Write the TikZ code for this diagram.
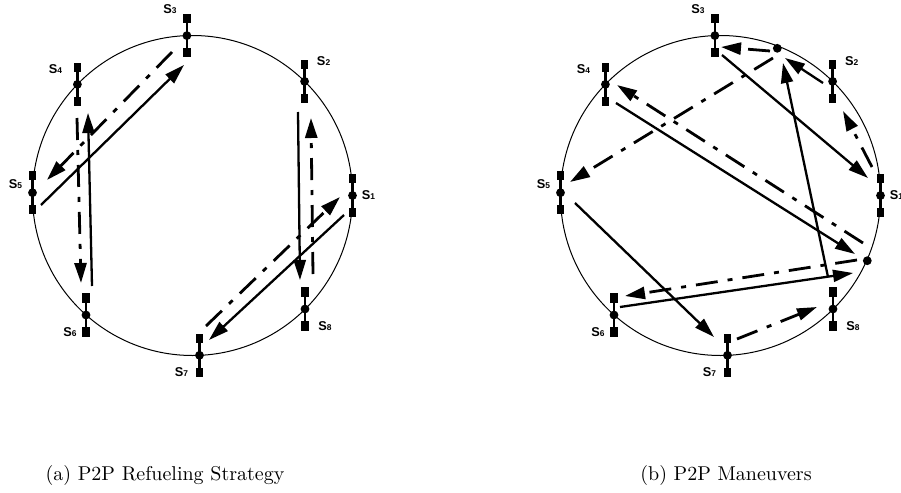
\documentclass[tikz,border=0pt]{standalone}
\usepackage{fontspec}
\newfontfamily\lblfont{Liberation Sans}
\usetikzlibrary{arrows.meta,calc}
\newcommand\satell[6]{%
  \draw[satbar] (#2,#3-17) -- (#2,#3+17);
  \node[satdot] (#1) at (#2,#3) {};
  \node[satbox] (#1t) at (#2,#3-17) {};
  \node[satbox] (#1b) at (#2,#3+17) {};
  \node[lbl] (#1l) at (#2+#5,#3+#6) {S{\fontsize{4.2}{5}\selectfont #4}};
}
\begin{document}
\begin{tikzpicture}[x=0.5pt,y=-0.5pt,
  orbit/.style={line width=0.5pt},
  satdot/.style={circle,fill=black,inner sep=0pt,minimum size=4.4pt},
  satbox/.style={rectangle,fill=black,inner sep=0pt,minimum width=3.6pt,minimum height=4.6pt},
  satbar/.style={line width=1.2pt},
  lbl/.style={font=\lblfont\bfseries\fontsize{6.4}{7}\selectfont,inner sep=0pt},
  solidarrow/.style={line width=1.15pt,-{Triangle[length=10pt,width=6pt]}},
  dasharrow/.style={line width=1.4pt,dash pattern=on 11pt off 5pt on 2.5pt off 5pt,-{Triangle[length=10pt,width=6pt]}},
  captiontext/.style={font=\fontsize{10}{12}\selectfont,inner sep=0pt}
]
\useasboundingbox (0,0) rectangle (901,493);
% ---------- (a) ----------
\draw[orbit] (192.5,195.5) circle[radius=160];
\satell{a1}{352.5}{195.5}{1}{16}{0}
\satell{a2}{304.6}{81.4}{2}{19}{-20}
\satell{a3}{186.9}{35.6}{3}{-17}{-27}
\satell{a4}{77.4}{84.4}{4}{-22}{-15}
\satell{a5}{32.5}{192.7}{5}{-17}{-9}
\satell{a6}{86}{315}{6}{-16}{17}
\satell{a7}{199.5}{355.3}{7}{-18}{17}
\satell{a8}{305}{309}{8}{20}{17}
\coordinate (pa1s) at (41,205);  \coordinate (pa1e) at (184,65);
\coordinate (pa2s) at (172,52);  \coordinate (pa2e) at (47,180);
\coordinate (pa3s) at (92,286);  \coordinate (pa3e) at (88,113);
\coordinate (pa4s) at (77,118);  \coordinate (pa4e) at (81,283);
\coordinate (pa5s) at (298,112); \coordinate (pa5e) at (300,280);
\coordinate (pa6s) at (313,274); \coordinate (pa6e) at (311,118);
\coordinate (pa7s) at (206,326); \coordinate (pa7e) at (340,197);
\coordinate (pa8s) at (344,215); \coordinate (pa8e) at (209,340);
\draw[solidarrow] (pa1s) -- (pa1e);
\draw[dasharrow] (pa2s) -- (pa2e);
\draw[solidarrow] (pa3s) -- (pa3e);
\draw[dasharrow] (pa4s) -- (pa4e);
\draw[solidarrow] (pa5s) -- (pa5e);
\draw[dasharrow] (pa6s) -- (pa6e);
\draw[dasharrow] (pa7s) -- (pa7e);
\draw[solidarrow] (pa8s) -- (pa8e);
% ---------- (b) ----------
\draw[orbit] (720.5,195.5) circle[radius=160];
\satell{b1}{880.5}{195.5}{1}{16}{0}
\satell{b2}{832.6}{81.4}{2}{19}{-20}
\satell{b3}{714.9}{35.6}{3}{-17}{-27}
\satell{b4}{605.4}{84.4}{4}{-22}{-15}
\satell{b5}{560.5}{192.7}{5}{-17}{-9}
\satell{b6}{614}{315}{6}{-16}{17}
\satell{b7}{727.5}{355.3}{7}{-18}{17}
\satell{b8}{833}{309}{8}{20}{17}
\node[satdot] (d1) at (777.3,48.3) {};
\node[satdot] (d2) at (867.3,260.7) {};
\coordinate (pb1s) at (770,51);  \coordinate (pb1e) at (721,47);
\coordinate (pb2s) at (823,83);  \coordinate (pb2e) at (785,58);
\coordinate (pb3s) at (872,167); \coordinate (pb3e) at (843,111);
\coordinate (pb4s) at (722,55);  \coordinate (pb4e) at (868,178);
\coordinate (pb5s) at (773,58);  \coordinate (pb5e) at (570,182);
\coordinate (pb6s) at (863,243); \coordinate (pb6e) at (617,85);
\coordinate (pb7s) at (616,103); \coordinate (pb7e) at (855,254);
\coordinate (pb8s) at (828,277); \coordinate (pb8e) at (783,63);
\coordinate (pb9s) at (857,260); \coordinate (pb9e) at (625,296);
\coordinate (pb10s) at (620,307); \coordinate (pb10e) at (853,273);
\coordinate (pb11s) at (575,203); \coordinate (pb11e) at (714,337);
\coordinate (pb12s) at (737,339); \coordinate (pb12e) at (817,307);
\draw[dasharrow] (pb1s) -- (pb1e);
\draw[solidarrow] (pb2s) -- (pb2e);
\draw[dasharrow] (pb3s) -- (pb3e);
\draw[solidarrow] (pb4s) -- (pb4e);
\draw[dasharrow] (pb5s) -- (pb5e);
\draw[dasharrow] (pb6s) -- (pb6e);
\draw[solidarrow] (pb7s) -- (pb7e);
\draw[solidarrow] (pb8s) -- (pb8e);
\draw[dasharrow] (pb9s) -- (pb9e);
\draw[solidarrow] (pb10s) -- (pb10e);
\draw[solidarrow] (pb11s) -- (pb11e);
\draw[dasharrow] (pb12s) -- (pb12e);
% ---------- captions ----------
\node[captiontext,anchor=base] (capa) at (165,480) {(a) P2P Refueling Strategy};
\node[captiontext,anchor=base] (capb) at (726,480) {(b) P2P Maneuvers};
\end{tikzpicture}
\end{document}
